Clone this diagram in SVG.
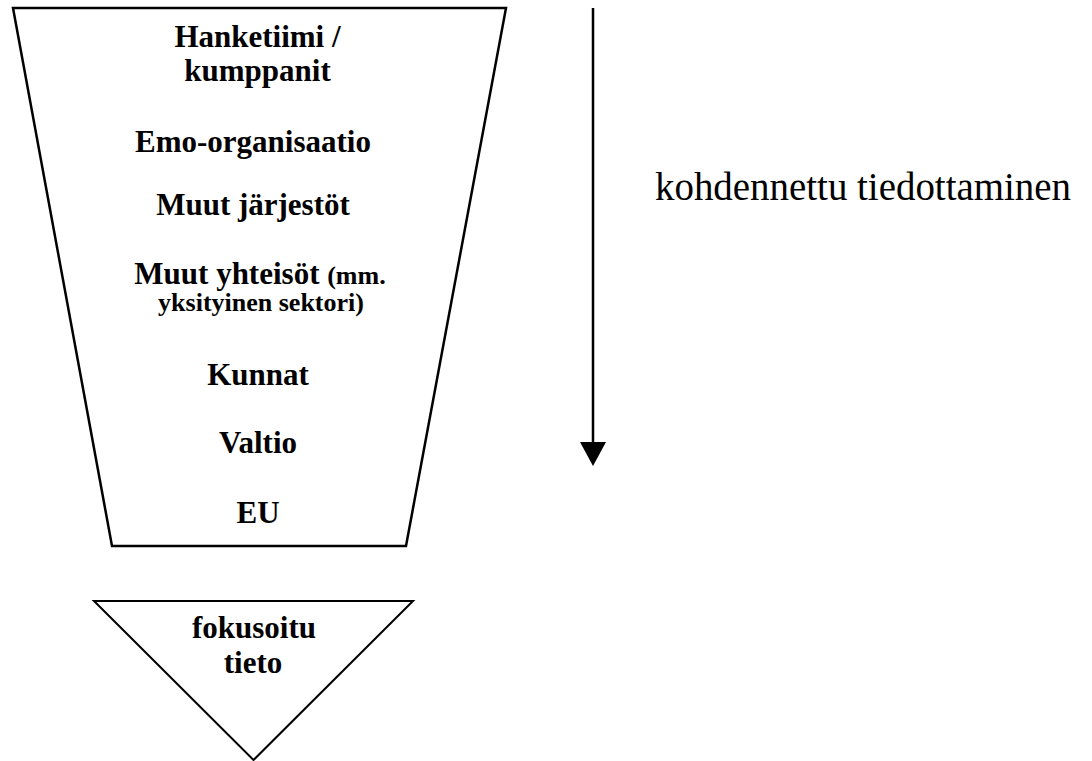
<svg xmlns="http://www.w3.org/2000/svg" width="1092" height="761" viewBox="0 0 1092 761">
<style>
.shape{fill:#fff;stroke:#000;stroke-width:2.5;stroke-linejoin:miter}
.b{font-family:"Liberation Serif","Times New Roman",serif;font-weight:bold;font-size:31px;fill:#000;text-anchor:middle}
.s{font-size:26px}
.r{font-family:"Liberation Serif","Times New Roman",serif;font-size:39px;fill:#000}
</style>
<rect width="1092" height="761" fill="#fff"/>
<g id="funnel">
<polygon class="shape" points="13,8 506,8 406,546 112,546"/>
<text class="b" x="257.5" y="47">Hanketiimi /</text>
<text class="b" x="257.5" y="81">kumppanit</text>
<text class="b" x="253" y="152">Emo-organisaatio</text>
<text class="b" x="253" y="215">Muut järjestöt</text>
<text class="b" x="260" y="284">Muut yhteisöt <tspan class="s">(mm.</tspan></text>
<text class="b s" x="261" y="311">yksityinen sektori)</text>
<text class="b" x="258" y="385">Kunnat</text>
<text class="b" x="258" y="453">Valtio</text>
<text class="b" x="258" y="523">EU</text>
</g>
<g id="focus">
<polygon class="shape" style="stroke-width:2" points="94,601 413,601 253.5,760"/>
<text class="b" x="254" y="638">fokusoitu</text>
<text class="b" x="253" y="673">tieto</text>
</g>
<g id="connectors">
<line x1="593" y1="8" x2="593" y2="444" stroke="#000" stroke-width="2.5"/>
<polygon points="580,442 606,442 593,466" fill="#000"/>
</g>
<g id="label">
<text class="r" x="655" y="200" textLength="416" lengthAdjust="spacingAndGlyphs">kohdennettu tiedottaminen</text>
</g>
</svg>
